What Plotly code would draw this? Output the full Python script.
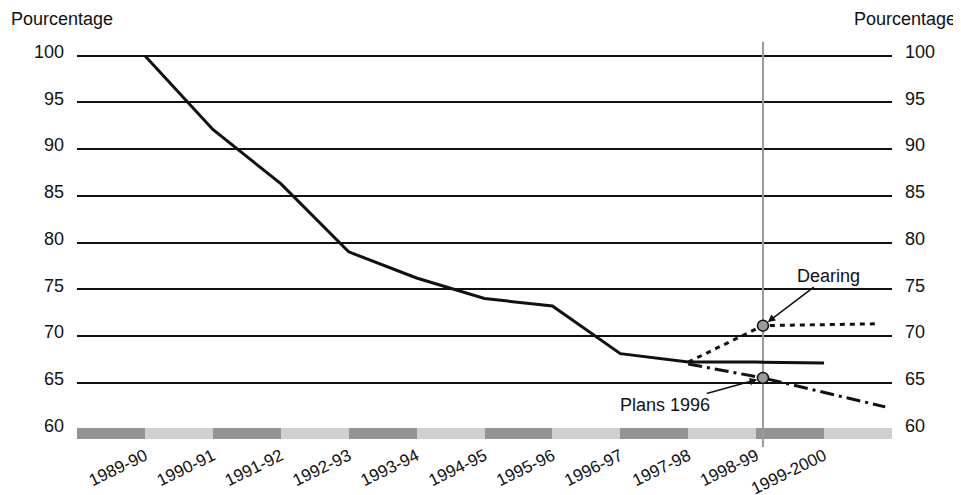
import plotly.graph_objects as go

categories = ["1989-90", "1990-91", "1991-92", "1992-93", "1993-94", "1994-95",
              "1995-96", "1996-97", "1997-98", "1998-99", "1999-2000"]
actual = [100, 92.1, 86.3, 79.0, 76.2, 74.0, 73.2, 68.1, 67.2, 67.2, 67.1]

dearing_x = [8, 9.1, 10.8]
dearing_y = [67.2, 71.1, 71.3]
plans_x = [8, 9.1, 10.9]
plans_y = [67.0, 65.5, 62.4]
marker_x = [9.1, 9.1]
marker_y = [71.1, 65.5]
vline_x = [9.1, 9.1]
vline_y = [58.1, 101.5]

y_ticks = [60, 65, 70, 75, 80, 85, 90, 95, 100]
band_colors = ["#939393", "#d0d0d2"]
n_bands = 12
band_base = 58.95
band_top = 60.1

FONT = "Liberation Sans"
INK = "#111111"
FS = 18

x_idx = list(range(len(categories)))
fig = go.Figure()

# alternating band along the bottom
fig.add_trace(go.Bar(
    x=[k - 0.5 for k in range(n_bands)],
    y=[band_top - band_base] * n_bands,
    base=[band_base] * n_bands,
    width=[1] * n_bands,
    marker=dict(color=[band_colors[k % 2] for k in range(n_bands)], line=dict(width=0)),
    hoverinfo="skip", showlegend=False,
))

# vertical reference line
fig.add_trace(go.Scatter(x=vline_x, y=vline_y, mode="lines",
                         line=dict(color="#9a9a9a", width=2),
                         hoverinfo="skip", showlegend=False))

fig.add_trace(go.Scatter(x=x_idx, y=actual, mode="lines",
                         line=dict(color=INK, width=3), showlegend=False))
fig.add_trace(go.Scatter(x=dearing_x, y=dearing_y, mode="lines",
                         line=dict(color=INK, width=3, dash="5px,5px"), showlegend=False))
fig.add_trace(go.Scatter(x=plans_x, y=plans_y, mode="lines",
                         line=dict(color=INK, width=3, dash="14px,5px,3px,5px"), showlegend=False))
fig.add_trace(go.Scatter(x=marker_x, y=marker_y, mode="markers",
                         marker=dict(color="#9a9a9a", size=11, line=dict(color=INK, width=1.5)),
                         showlegend=False))
# invisible trace for the right axis
fig.add_trace(go.Scatter(x=[0], y=[80], yaxis="y2", mode="markers",
                         marker=dict(opacity=0), hoverinfo="skip", showlegend=False))

tick_font = dict(family=FONT, size=FS, color=INK)
fig.update_layout(
    width=953, height=487,
    margin=dict(l=69, r=69, t=29, b=47),
    paper_bgcolor="white", plot_bgcolor="white",
    font=dict(family=FONT, size=FS, color=INK),
    bargap=0,
    xaxis=dict(range=[-1, 11], tickmode="array", tickvals=x_idx, ticktext=categories,
               tickangle=-26, showgrid=False, zeroline=False, showline=False,
               ticks="", tickfont=dict(family=FONT, size=17, color=INK),
               automargin=False, ticklabelstandoff=-6),
    yaxis=dict(range=[58, 102], tickmode="array", tickvals=y_ticks,
               ticktext=[str(v) for v in y_ticks],
               showgrid=True, gridcolor=INK, gridwidth=1.5, zeroline=False,
               showline=False, ticks="", tickfont=tick_font, ticklabelstandoff=12,
               ticklabelshift=-4, automargin=False),
    yaxis2=dict(range=[58, 102], overlaying="y", side="right", tickmode="array",
                tickvals=y_ticks, ticktext=[str(v) for v in y_ticks],
                showgrid=False, zeroline=False, showline=False, ticks="",
                tickfont=tick_font, ticklabelstandoff=12, ticklabelshift=-4,
                automargin=False),
    annotations=[
        dict(text="Pourcentage", xref="paper", yref="paper", x=-68/815, y=1.0,
             xanchor="left", yanchor="bottom", yshift=6, showarrow=False,
             font=dict(family=FONT, size=FS, color=INK)),
        dict(text="Pourcentage", xref="paper", yref="paper", x=1 + 66/815, y=1.0,
             xanchor="right", yanchor="bottom", yshift=6, showarrow=False,
             font=dict(family=FONT, size=FS, color=INK)),
        dict(text="Dearing", x=9.1, y=71.1, ax=66, ay=-50, showarrow=True,
             arrowhead=2, arrowsize=1, arrowwidth=1.5, arrowcolor=INK, standoff=6,
             font=dict(family=FONT, size=FS, color=INK)),
        dict(text="Plans 1996", x=9.1, y=65.5, ax=-98, ay=27, showarrow=True,
             arrowhead=2, arrowsize=1, arrowwidth=1.5, arrowcolor=INK, standoff=6,
             font=dict(family=FONT, size=FS, color=INK)),
    ],
)

fig.write_html("out.html")
